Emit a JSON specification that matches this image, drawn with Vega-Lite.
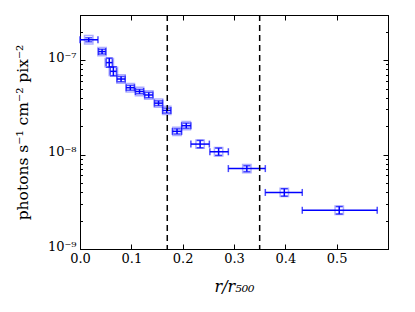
{
  "$schema": "https://vega.github.io/schema/vega-lite/v6.json",
  "width": 308,
  "height": 234,
  "autosize": {"type": "none"},
  "padding": {"left": 80, "top": 15, "right": 27, "bottom": 63},
  "background": "white",
  "config": {
    "view": {"stroke": "black", "strokeWidth": 1},
    "scale": {"continuousPadding": 0},
    "axis": {
      "labelFont": "DejaVu Serif",
      "titleFont": "DejaVu Serif",
      "labelFontSize": 13,
      "titleFontSize": 15.5,
      "titleFontWeight": "normal",
      "labelColor": "black",
      "titleColor": "black",
      "domainColor": "black",
      "tickColor": "black",
      "grid": false
    }
  },
  "data": {
    "values": [
      {"x": 0.017, "xlo": 0.0, "xhi": 0.035, "y": 1.64e-7, "ylo": 1.56e-7, "yhi": 1.72e-7},
      {"x": 0.043, "xlo": 0.036, "xhi": 0.050, "y": 1.23e-7, "ylo": 1.16e-7, "yhi": 1.30e-7},
      {"x": 0.057, "xlo": 0.051, "xhi": 0.063, "y": 9.4e-8, "ylo": 8.4e-8, "yhi": 1.05e-7},
      {"x": 0.065, "xlo": 0.059, "xhi": 0.071, "y": 7.6e-8, "ylo": 6.8e-8, "yhi": 8.5e-8},
      {"x": 0.080, "xlo": 0.072, "xhi": 0.088, "y": 6.3e-8, "ylo": 5.9e-8, "yhi": 6.7e-8},
      {"x": 0.098, "xlo": 0.090, "xhi": 0.106, "y": 5.1e-8, "ylo": 4.8e-8, "yhi": 5.4e-8},
      {"x": 0.116, "xlo": 0.108, "xhi": 0.124, "y": 4.65e-8, "ylo": 4.4e-8, "yhi": 4.9e-8},
      {"x": 0.134, "xlo": 0.126, "xhi": 0.142, "y": 4.27e-8, "ylo": 4.0e-8, "yhi": 4.55e-8},
      {"x": 0.153, "xlo": 0.145, "xhi": 0.161, "y": 3.5e-8, "ylo": 3.3e-8, "yhi": 3.7e-8},
      {"x": 0.169, "xlo": 0.161, "xhi": 0.177, "y": 2.93e-8, "ylo": 2.75e-8, "yhi": 3.1e-8},
      {"x": 0.189, "xlo": 0.180, "xhi": 0.198, "y": 1.76e-8, "ylo": 1.65e-8, "yhi": 1.87e-8},
      {"x": 0.207, "xlo": 0.198, "xhi": 0.216, "y": 2.02e-8, "ylo": 1.9e-8, "yhi": 2.15e-8},
      {"x": 0.234, "xlo": 0.216, "xhi": 0.252, "y": 1.29e-8, "ylo": 1.18e-8, "yhi": 1.41e-8},
      {"x": 0.270, "xlo": 0.253, "xhi": 0.289, "y": 1.07e-8, "ylo": 0.98e-8, "yhi": 1.17e-8},
      {"x": 0.325, "xlo": 0.289, "xhi": 0.361, "y": 7.1e-9, "ylo": 6.6e-9, "yhi": 7.6e-9},
      {"x": 0.398, "xlo": 0.361, "xhi": 0.433, "y": 3.97e-9, "ylo": 3.63e-9, "yhi": 4.34e-9},
      {"x": 0.505, "xlo": 0.433, "xhi": 0.579, "y": 2.57e-9, "ylo": 2.35e-9, "yhi": 2.81e-9}
    ]
  },
  "layer": [
    {
      "mark": {"type": "rule", "color": "#0000ff", "strokeWidth": 1.5},
      "encoding": {
        "x": {
          "field": "xlo", "type": "quantitative",
          "scale": {"domain": [0, 0.6], "nice": false, "zero": false, "padding": 0},
          "axis": {
            "orient": "bottom", "title": "r/r₅₀₀", "titleFontStyle": "italic", "titleFontSize": 16,
            "values": [0, 0.1, 0.2, 0.3, 0.4, 0.5], "labelFlush": false,
            "format": ".1f", "tickSize": -5, "labelPadding": 8, "titlePadding": 13
          }
        },
        "x2": {"field": "xhi"},
        "y": {
          "field": "y", "type": "quantitative",
          "scale": {"type": "log", "domain": [1e-9, 3e-7], "nice": false, "padding": 0},
          "axis": {
            "orient": "left",
            "title": "photons s⁻¹ cm⁻² pix⁻²",
            "values": [1e-9, 2e-9, 3e-9, 4e-9, 5e-9, 6e-9, 7e-9, 8e-9, 9e-9, 1e-8, 2e-8, 3e-8, 4e-8, 5e-8, 6e-8, 7e-8, 8e-8, 9e-8, 1e-7, 2e-7, 3e-7],
            "labelExpr": "datum.value > 9.9e-10 && datum.value < 1.01e-9 ? '10⁻⁹' : datum.value > 9.9e-9 && datum.value < 1.01e-8 ? '10⁻⁸' : datum.value > 9.9e-8 && datum.value < 1.01e-7 ? '10⁻⁷' : ''",
            "tickSize": {"condition": {"test": "(datum.value > 9.9e-10 && datum.value < 1.01e-9) || (datum.value > 9.9e-9 && datum.value < 1.01e-8) || (datum.value > 9.9e-8 && datum.value < 1.01e-7)", "value": -5}, "value": -2.5},
            "labelPadding": 9,
            "labelFlush": false,
            "labelOffset": -3,
            "titlePadding": 17
          }
        }
      }
    },
    {
      "mark": {"type": "rule", "color": "#0000ff", "strokeWidth": 1.5},
      "encoding": {
        "x": {"field": "x", "type": "quantitative", "axis": null},
        "y": {"field": "ylo", "type": "quantitative", "scale": {"type": "log"}, "axis": null},
        "y2": {"field": "yhi"}
      }
    },
    {
      "mark": {"type": "tick", "orient": "vertical", "color": "#0000ff", "size": 7, "thickness": 1.5},
      "encoding": {
        "x": {"field": "xlo", "type": "quantitative", "axis": null},
        "y": {"field": "y", "type": "quantitative", "scale": {"type": "log"}, "axis": null}
      }
    },
    {
      "mark": {"type": "tick", "orient": "vertical", "color": "#0000ff", "size": 7, "thickness": 1.5},
      "encoding": {
        "x": {"field": "xhi", "type": "quantitative", "axis": null},
        "y": {"field": "y", "type": "quantitative", "scale": {"type": "log"}, "axis": null}
      }
    },
    {
      "mark": {"type": "tick", "orient": "horizontal", "color": "#0000ff", "size": 7, "thickness": 1.5},
      "encoding": {
        "x": {"field": "x", "type": "quantitative", "axis": null},
        "y": {"field": "ylo", "type": "quantitative", "scale": {"type": "log"}, "axis": null}
      }
    },
    {
      "mark": {"type": "tick", "orient": "horizontal", "color": "#0000ff", "size": 7, "thickness": 1.5},
      "encoding": {
        "x": {"field": "x", "type": "quantitative", "axis": null},
        "y": {"field": "yhi", "type": "quantitative", "scale": {"type": "log"}, "axis": null}
      }
    },
    {
      "mark": {"type": "point", "shape": "square", "size": 70, "filled": false, "stroke": "#0000ff", "strokeOpacity": 0.45, "strokeWidth": 1.5},
      "encoding": {
        "x": {
          "field": "x", "type": "quantitative",
          "axis": {"orient": "top", "title": null, "labels": false, "values": [0, 0.1, 0.2, 0.3, 0.4, 0.5], "tickSize": -5}
        },
        "y": {
          "field": "y", "type": "quantitative", "scale": {"type": "log"},
          "axis": {
            "orient": "right", "title": null, "labels": false,
            "values": [1e-9, 2e-9, 3e-9, 4e-9, 5e-9, 6e-9, 7e-9, 8e-9, 9e-9, 1e-8, 2e-8, 3e-8, 4e-8, 5e-8, 6e-8, 7e-8, 8e-8, 9e-8, 1e-7, 2e-7, 3e-7],
            "tickSize": {"condition": {"test": "(datum.value > 9.9e-10 && datum.value < 1.01e-9) || (datum.value > 9.9e-9 && datum.value < 1.01e-8) || (datum.value > 9.9e-8 && datum.value < 1.01e-7)", "value": -5}, "value": -2.5}
          }
        }
      }
    },
    {
      "data": {"values": [{"vx": 0.17}, {"vx": 0.35}]},
      "mark": {"type": "rule", "color": "black", "strokeWidth": 1.5, "strokeDash": [6, 4]},
      "encoding": {
        "x": {"field": "vx", "type": "quantitative", "axis": null}
      }
    }
  ],
  "resolve": {"axis": {"x": "independent", "y": "independent"}}
}
